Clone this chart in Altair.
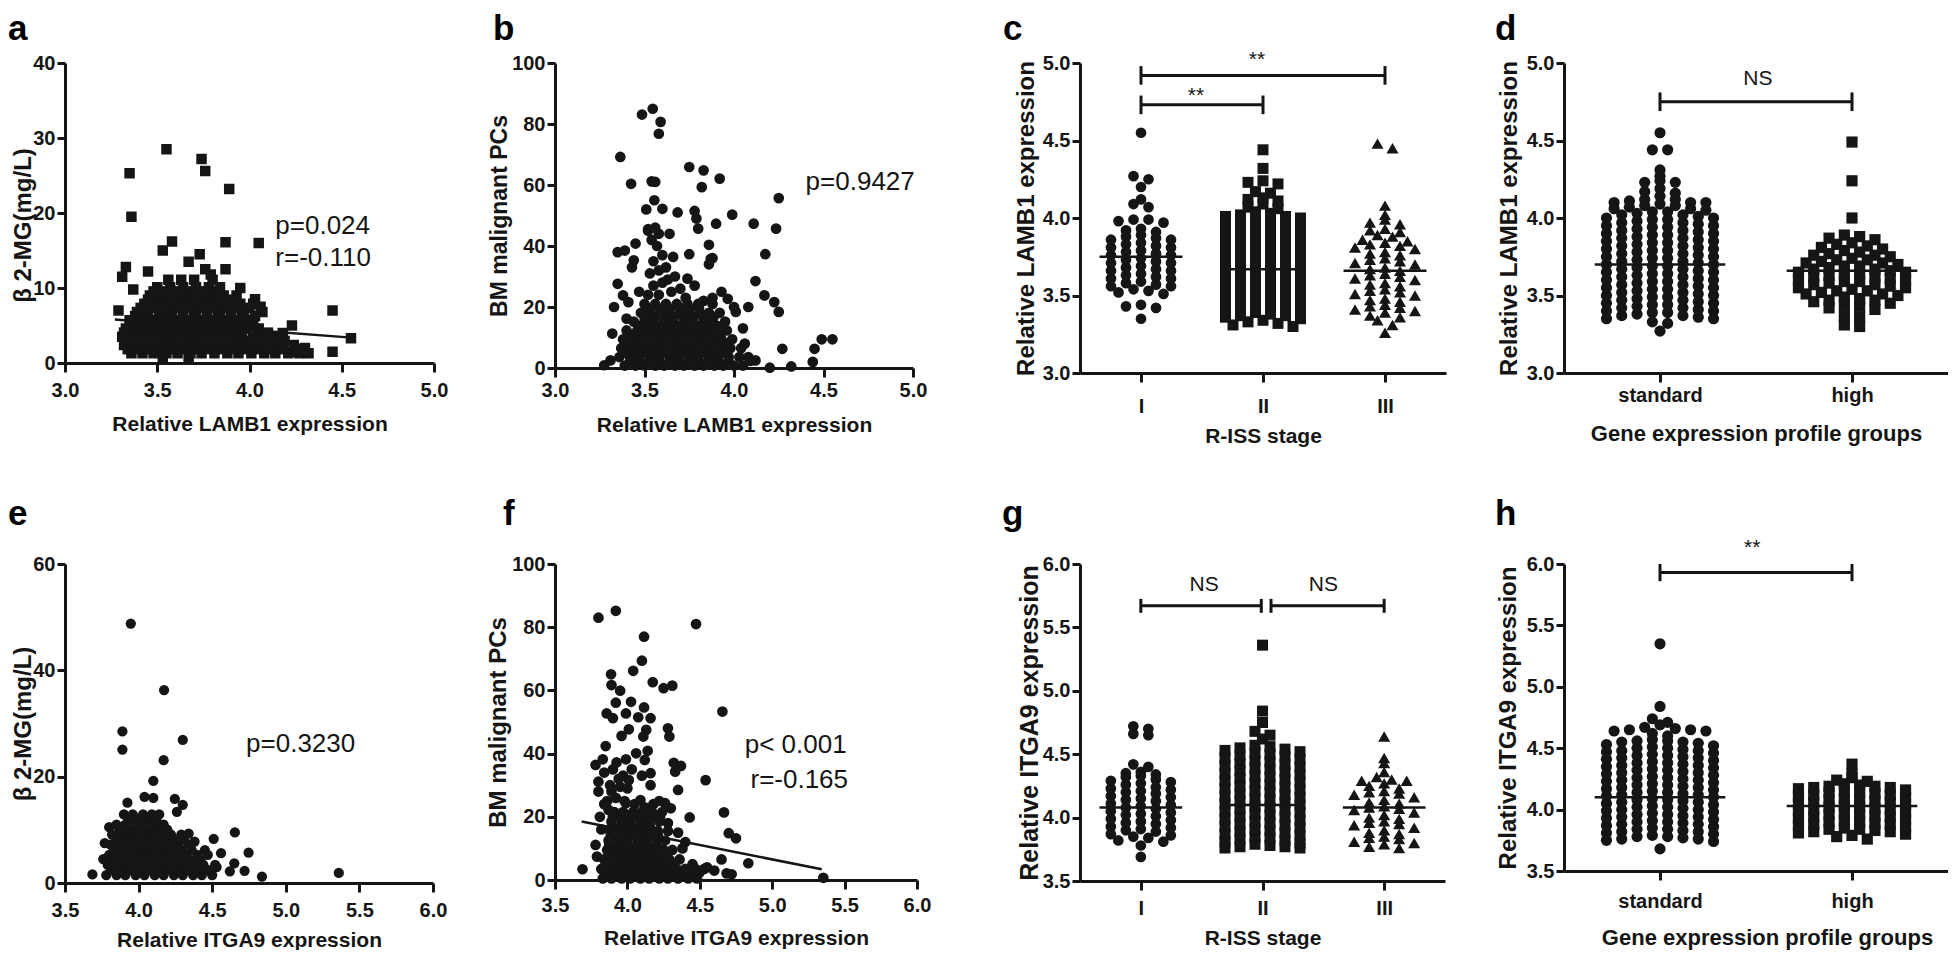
import math
import altair as alt
import pandas as pd

FONT = "Liberation Sans, Arial, sans-serif"
INK = "#151515"

# ---------------- data: scatter panels ----------------
# a: beta2-MG vs LAMB1 (squares)
a_pts = [(3.55, 28.5), (3.35, 25.3), (3.74, 27.2), (3.76, 25.6), (3.89, 23.2), (3.36, 19.5),
         (3.87, 16.1), (4.05, 16.0), (3.58, 16.2), (3.53, 15.0), (3.73, 14.5), (3.67, 13.5),
         (3.33, 12.8), (3.31, 11.5), (3.45, 12.2), (3.87, 12.5), (3.76, 12.5), (3.79, 11.8),
         (3.37, 9.8), (3.95, 10.0), (4.03, 8.5), (4.06, 7.5), (3.29, 7.0), (4.45, 7.0),
         (4.23, 5.0), (4.55, 3.3), (4.45, 1.5), (4.18, 4.0), (4.30, 2.0), (4.22, 1.5)]
a_rows = {
    0.5: [3.53, 3.67],
    1.3: [3.36, 3.42, 3.48, 3.55, 3.61, 3.68, 3.74, 3.81, 3.88, 3.94, 4.01, 4.08, 4.14, 4.21, 4.27, 4.32],
    1.85: [3.34, 3.40, 3.46, 3.52, 3.58, 3.65, 3.71, 3.78, 3.85, 3.91, 3.98, 4.05, 4.12, 4.18, 4.25, 4.30],
    2.4: [3.32, 3.38, 3.44, 3.50, 3.57, 3.63, 3.70, 3.76, 3.83, 3.89, 3.96, 4.03, 4.10, 4.16, 4.24],
    2.95: [3.34, 3.40, 3.47, 3.53, 3.60, 3.66, 3.73, 3.79, 3.86, 3.92, 3.99, 4.06, 4.12, 4.19],
    3.5: [3.31, 3.37, 3.43, 3.50, 3.56, 3.62, 3.69, 3.75, 3.82, 3.88, 3.95, 4.02, 4.09, 4.15],
    4.05: [3.32, 3.38, 3.45, 3.51, 3.57, 3.64, 3.70, 3.77, 3.83, 3.90, 3.96, 4.04, 4.10],
    4.6: [3.33, 3.40, 3.46, 3.52, 3.59, 3.65, 3.72, 3.78, 3.85, 3.91, 3.98, 4.05],
    5.15: [3.36, 3.43, 3.49, 3.56, 3.62, 3.69, 3.75, 3.82, 3.88, 3.95, 4.02],
    5.7: [3.35, 3.41, 3.48, 3.54, 3.61, 3.67, 3.74, 3.80, 3.87, 3.93, 4.00],
    6.25: [3.38, 3.44, 3.51, 3.57, 3.64, 3.70, 3.77, 3.83, 3.90, 3.96, 4.03],
    6.8: [3.39, 3.45, 3.52, 3.58, 3.64, 3.71, 3.77, 3.84, 3.90, 3.97, 4.07],
    7.35: [3.41, 3.47, 3.54, 3.60, 3.67, 3.73, 3.80, 3.86, 3.93, 4.00],
    7.9: [3.43, 3.49, 3.56, 3.62, 3.68, 3.75, 3.81, 3.88, 3.95, 4.02],
    8.45: [3.45, 3.51, 3.58, 3.64, 3.71, 3.77, 3.84, 3.90],
    9.0: [3.46, 3.53, 3.60, 3.66, 3.72, 3.79, 3.86, 3.93],
    9.55: [3.48, 3.55, 3.62, 3.68, 3.75, 3.81],
    10.1: [3.50, 3.57, 3.64, 3.71, 3.78, 3.84],
    11.1: [3.56, 3.63, 3.70, 3.80],
}
a_fit = [(3.27, 5.8), (4.57, 3.35)]
a_notes = [("p=0.024", 4.14, 17.2), ("r=-0.110", 4.14, 13.0)]

# b: BM malignant PCs vs LAMB1 (circles)
b_pts = [(3.546, 85.0), (3.486, 83.1), (3.59, 80.7), (3.58, 76.8), (3.365, 69.2), (3.75, 65.9),
         (3.83, 64.8), (3.92, 62.1), (3.425, 60.4), (3.54, 61.2), (3.56, 61.0), (3.82, 59.3),
         (4.25, 55.7), (3.555, 55.0), (3.60, 52.2), (3.685, 51.0), (3.78, 51.5), (3.51, 52.0),
         (3.99, 50.3), (3.90, 47.3), (3.79, 49.0), (4.11, 47.3), (4.235, 45.7), (3.52, 45.0),
         (3.64, 44.0), (3.80, 45.7), (3.45, 40.8), (3.86, 40.4), (3.35, 38.0), (3.39, 38.5),
         (3.66, 36.4), (3.75, 37.3), (3.87, 35.8), (4.175, 37.3), (3.44, 35.3), (3.43, 33.0),
         (4.12, 28.5), (3.74, 29.3), (4.17, 23.8), (4.225, 21.6), (4.25, 18.4), (4.27, 6.3),
         (4.45, 6.3), (4.49, 9.4), (4.55, 9.4), (4.44, 2.0), (4.32, 0.5), (4.20, 0.1),
         (4.08, 20.0), (4.05, 13.0), (4.06, 8.0), (4.12, 2.5), (4.09, 2.3), (3.275, 0.9),
         (3.31, 2.5), (3.32, 11.3), (3.33, 20.0), (3.35, 27.6), (3.38, 23.8), (3.41, 21.6),
         (3.47, 25.0), (3.40, 16.2), (3.93, 25.0), (3.965, 22.7), (4.01, 18.4), (4.00, 20.0),
         (3.86, 34.0), (3.88, 36.0), (3.52, 24.0), (3.58, 24.0), (3.55, 27.0), (3.60, 28.0),
         (3.53, 31.0), (3.58, 32.0), (3.62, 33.0), (3.55, 35.0), (3.60, 37.0), (3.57, 40.0),
         (3.54, 42.0), (3.58, 44.0), (3.52, 45.5), (3.56, 46.0), (3.65, 25.0), (3.70, 26.0),
         (3.63, 29.0), (3.67, 30.0), (3.78, 27.0), (3.83, 22.0), (3.88, 23.0), (3.73, 23.0)]
b_rows = {
    0.8: [3.39, 3.45, 3.50, 3.56, 3.61, 3.67, 3.72, 3.78, 3.83, 3.89, 3.94, 4.00, 4.05],
    2.2: [3.42, 3.475, 3.53, 3.585, 3.64, 3.695, 3.75, 3.805, 3.86, 3.915, 3.97],
    3.6: [3.36, 3.42, 3.47, 3.53, 3.58, 3.64, 3.69, 3.75, 3.80, 3.86, 3.91, 3.97, 4.03, 4.08],
    5.05: [3.40, 3.455, 3.51, 3.565, 3.62, 3.675, 3.73, 3.785, 3.84, 3.895, 3.95],
    6.5: [3.37, 3.43, 3.48, 3.54, 3.59, 3.65, 3.70, 3.76, 3.81, 3.87, 3.92, 3.98, 4.04],
    7.95: [3.41, 3.465, 3.52, 3.575, 3.63, 3.685, 3.74, 3.795, 3.85, 3.905, 3.96],
    9.4: [3.38, 3.44, 3.49, 3.55, 3.60, 3.66, 3.71, 3.77, 3.82, 3.88, 3.93, 3.99],
    10.85: [3.43, 3.485, 3.54, 3.595, 3.65, 3.705, 3.76, 3.815, 3.87, 3.925],
    12.3: [3.40, 3.46, 3.51, 3.57, 3.62, 3.68, 3.73, 3.79, 3.84, 3.90, 3.96],
    13.75: [3.47, 3.525, 3.58, 3.635, 3.69, 3.745, 3.80, 3.855, 3.91],
    15.2: [3.44, 3.50, 3.55, 3.61, 3.66, 3.72, 3.77, 3.83, 3.88, 3.95],
    16.65: [3.50, 3.555, 3.61, 3.665, 3.72, 3.775, 3.83, 3.885],
    18.1: [3.48, 3.53, 3.59, 3.64, 3.70, 3.75, 3.81, 3.86, 3.92],
    19.5: [3.53, 3.585, 3.64, 3.695, 3.75, 3.805],
    21.0: [3.50, 3.56, 3.62, 3.68, 3.74, 3.80, 3.88],
}
b_notes = [("p=0.9427", 4.40, 58.5)]

# e: beta2-MG vs ITGA9 (circles)
e_pts = [(3.947, 48.8), (4.173, 36.3), (3.89, 28.5), (3.89, 25.1), (4.30, 26.9), (4.17, 23.1),
         (4.10, 19.2), (3.924, 15.1), (4.246, 15.8), (4.30, 14.7), (4.26, 13.4), (4.04, 16.2),
         (4.10, 16.0), (4.654, 9.5), (4.747, 5.7), (5.36, 1.9), (4.838, 1.2), (3.686, 1.6),
         (4.51, 8.3), (4.65, 3.7), (4.72, 2.3), (4.56, 5.6), (4.45, 6.2), (4.34, 9.3),
         (4.62, 2.2), (4.53, 3.0), (3.76, 4.5), (3.77, 7.5), (3.80, 10.5), (4.38, 7.8)]
e_rows = {
    1.5: [3.78, 3.85, 3.91, 3.98, 4.04, 4.11, 4.17, 4.24, 4.30, 4.37, 4.43, 4.50],
    2.45: [3.815, 3.88, 3.945, 4.01, 4.075, 4.14, 4.205, 4.27, 4.335, 4.40, 4.47],
    3.4: [3.79, 3.86, 3.92, 3.99, 4.05, 4.12, 4.18, 4.25, 4.31, 4.38, 4.44, 4.52],
    4.35: [3.825, 3.89, 3.955, 4.02, 4.085, 4.15, 4.215, 4.28, 4.35, 4.42],
    5.3: [3.80, 3.87, 3.93, 4.00, 4.06, 4.13, 4.19, 4.26, 4.32, 4.40, 4.47],
    6.25: [3.835, 3.90, 3.965, 4.03, 4.095, 4.16, 4.225, 4.29, 4.36],
    7.2: [3.81, 3.88, 3.94, 4.01, 4.07, 4.14, 4.20, 4.27, 4.34],
    8.15: [3.85, 3.915, 3.98, 4.045, 4.11, 4.175, 4.24, 4.31],
    9.1: [3.82, 3.89, 3.95, 4.02, 4.08, 4.15, 4.22, 4.29],
    10.05: [3.87, 3.935, 4.00, 4.065, 4.13, 4.195],
    11.0: [3.85, 3.91, 3.98, 4.04, 4.11, 4.17],
    11.95: [3.93, 3.995, 4.06, 4.12],
    12.9: [3.90, 3.96, 4.03, 4.09, 4.14],
}
e_notes = [("p=0.3230", 4.73, 24.6)]

# f: BM malignant PCs vs ITGA9 (circles)
f_pts = [(3.80, 83.0), (3.92, 85.2), (4.474, 81.0), (4.115, 77.0), (4.10, 69.4), (4.04, 66.2),
         (3.887, 65.1), (3.89, 61.7), (3.95, 59.9), (4.175, 62.6), (4.25, 60.7), (4.31, 61.5),
         (4.656, 53.3), (3.92, 56.1), (4.025, 56.4), (4.115, 54.6), (3.857, 52.7), (3.90, 51.2),
         (3.99, 52.7), (4.075, 51.5), (4.16, 51.2), (4.28, 48.0), (4.29, 45.4), (3.96, 45.6),
         (4.01, 47.7), (4.13, 47.5), (4.11, 45.4), (3.85, 42.4), (3.78, 36.4), (3.83, 38.2),
         (3.925, 37.2), (3.99, 38.2), (4.06, 40.1), (4.14, 40.9), (4.12, 38.0), (4.16, 33.8),
         (4.32, 37.1), (4.37, 36.1), (4.33, 34.3), (4.54, 31.6), (4.35, 28.5), (3.80, 31.1),
         (4.01, 31.6), (4.43, 19.8), (4.667, 21.4), (4.70, 14.8), (4.75, 13.2), (4.38, 10.0),
         (4.835, 5.3), (4.65, 6.5), (4.685, 2.1), (4.72, 1.8), (5.353, 0.7), (3.69, 3.4),
         (3.78, 11.1), (3.79, 7.4), (4.30, 22.7), (4.26, 24.3), (3.87, 22.2), (3.99, 24.3),
         (4.09, 25.3), (3.89, 28.0), (3.95, 29.5), (4.55, 4.0), (4.50, 2.5), (4.45, 5.0),
         (4.60, 3.0), (4.42, 1.5), (3.86, 25.0), (3.92, 26.0), (3.98, 25.0), (4.05, 24.0),
         (4.12, 23.0), (4.18, 24.0), (3.88, 30.0), (3.94, 32.0), (4.00, 29.0), (3.84, 34.0),
         (3.90, 35.0), (3.97, 33.0), (4.03, 35.0), (4.10, 33.0), (4.16, 30.0), (3.80, 28.0),
         (4.22, 25.0), (4.28, 18.0), (4.35, 15.0), (4.40, 12.0), (3.82, 16.0), (3.81, 20.0),
         (3.84, 24.0)]
f_rows = {
    0.5: [3.83, 3.89, 3.96, 4.02, 4.09, 4.15, 4.22, 4.28, 4.35, 4.42, 4.48],
    2.0: [3.855, 3.92, 3.985, 4.05, 4.115, 4.18, 4.245, 4.31, 4.375, 4.44],
    3.5: [3.82, 3.88, 3.95, 4.01, 4.08, 4.14, 4.21, 4.27, 4.34, 4.40, 4.47, 4.53],
    5.0: [3.85, 3.915, 3.98, 4.045, 4.11, 4.175, 4.24, 4.305],
    6.5: [3.84, 3.90, 3.97, 4.03, 4.10, 4.16, 4.23, 4.29, 4.36],
    8.0: [3.87, 3.935, 4.00, 4.065, 4.13, 4.195, 4.26],
    9.5: [3.86, 3.92, 3.99, 4.05, 4.12, 4.18, 4.25, 4.31],
    11.0: [3.875, 3.94, 4.005, 4.07, 4.135, 4.20],
    12.5: [3.87, 3.94, 4.00, 4.07, 4.13, 4.20, 4.26],
    14.0: [3.885, 3.95, 4.015, 4.08, 4.145, 4.21],
    15.5: [3.88, 3.95, 4.01, 4.08, 4.14, 4.21, 4.28],
    17.0: [3.895, 3.96, 4.025, 4.09, 4.155],
    18.5: [3.89, 3.96, 4.02, 4.09, 4.15, 4.22],
    20.0: [3.90, 3.965, 4.03, 4.095, 4.16, 4.225],
    21.5: [3.91, 3.97, 4.04, 4.10, 4.17, 4.24],
}
f_fit = [(3.684, 18.5), (5.342, 3.4)]
f_notes = [("p< 0.001", 4.81, 40.2), ("r=-0.165", 4.85, 29.1)]

# ---------------- data: dot plots ----------------
stage_cats = ["I", "II", "III"]
gep_cats = ["standard", "high"]

c_I = [4.55, 4.27, 4.25, 4.20, 4.12, 4.09, 4.07, 3.99, 3.99, 3.98, 3.97, 3.93, 3.92, 3.91,
       3.89, 3.88, 3.87, 3.86, 3.86, 3.84, 3.83, 3.82, 3.81, 3.81, 3.79, 3.78, 3.77, 3.76, 3.76,
       3.74, 3.73, 3.72, 3.71, 3.71, 3.69, 3.68, 3.67, 3.66, 3.66, 3.64, 3.63, 3.62, 3.61, 3.61,
       3.59, 3.58, 3.57, 3.56, 3.56, 3.54, 3.53, 3.52, 3.51, 3.44, 3.43, 3.42, 3.35]
c_II = [4.44, 4.32, 4.24, 4.23, 4.22, 4.17, 4.16, 4.13, 4.12, 4.11, 4.09, 4.07, 4.06,
        4.04, 4.03, 4.02, 4.01, 4.01, 4.00, 3.99, 3.98, 3.97, 3.97, 3.96, 3.95,
        3.94, 3.93, 3.92, 3.92, 3.91, 3.90, 3.89, 3.88, 3.87, 3.87, 3.86, 3.85,
        3.84, 3.83, 3.82, 3.82, 3.81, 3.80, 3.79, 3.78, 3.77, 3.77, 3.76, 3.75,
        3.74, 3.73, 3.72, 3.72, 3.71, 3.70, 3.69, 3.68, 3.67, 3.67, 3.66, 3.65,
        3.64, 3.63, 3.62, 3.62, 3.61, 3.60, 3.59, 3.58, 3.57, 3.57, 3.56, 3.55,
        3.54, 3.53, 3.52, 3.52, 3.51, 3.50, 3.49, 3.48, 3.47, 3.47, 3.46, 3.45,
        3.44, 3.43, 3.42, 3.42, 3.41, 3.40, 3.39, 3.38, 3.37, 3.37, 3.36, 3.35,
        3.34, 3.33, 3.32, 3.31, 3.30]
c_III = [4.48, 4.45, 4.08, 4.02, 3.99, 3.97, 3.96, 3.93, 3.92, 3.91, 3.89, 3.88, 3.86, 3.85,
         3.84, 3.83, 3.82, 3.81, 3.80, 3.78, 3.77, 3.76, 3.74, 3.73, 3.72, 3.71, 3.70,
         3.68, 3.67, 3.66, 3.64, 3.63, 3.62, 3.61, 3.60, 3.58, 3.57, 3.56,
         3.54, 3.53, 3.52, 3.51, 3.50, 3.48, 3.47, 3.46, 3.44, 3.43, 3.42, 3.41, 3.40,
         3.39, 3.37, 3.36, 3.34, 3.31, 3.26]
c_means = [3.75, 3.67, 3.66]
c_bars = [(1, 3, 4.92), (1, 2, 4.73)]
c_sig = [("**", 1.95, 4.98), ("**", 1.45, 4.75)]

d_std = [4.55, 4.44, 4.44, 4.31, 4.27, 4.24, 4.23, 4.23, 4.19, 4.17, 4.16,
         4.14, 4.12, 4.12, 4.11, 4.10, 4.10, 4.10, 4.09, 4.08, 4.08, 4.07, 4.06, 4.06, 4.05,
         4.04, 4.04, 4.03, 4.02, 4.02, 4.01, 4.00, 4.00, 3.99, 3.99, 3.98, 3.97, 3.97, 3.96, 3.95, 3.95,
         3.94, 3.94, 3.93, 3.92, 3.92, 3.91, 3.90, 3.90, 3.89, 3.89, 3.88, 3.87, 3.87, 3.86, 3.85, 3.85,
         3.84, 3.84, 3.83, 3.82, 3.82, 3.81, 3.80, 3.80, 3.79, 3.79, 3.78, 3.77, 3.77, 3.76, 3.75, 3.75,
         3.74, 3.74, 3.73, 3.72, 3.72, 3.71, 3.70, 3.70, 3.69, 3.69, 3.68, 3.67, 3.67, 3.66, 3.65, 3.65,
         3.64, 3.64, 3.63, 3.62, 3.62, 3.61, 3.60, 3.60, 3.59, 3.59, 3.58, 3.57, 3.57, 3.56, 3.55, 3.55,
         3.54, 3.54, 3.53, 3.52, 3.52, 3.51, 3.50, 3.50, 3.49, 3.49, 3.48, 3.47, 3.47, 3.46, 3.45, 3.45,
         3.44, 3.44, 3.43, 3.42, 3.42, 3.41, 3.40, 3.40, 3.39, 3.39, 3.38, 3.37, 3.37, 3.36, 3.35, 3.35,
         3.33, 3.32, 3.27]
d_high = [4.49, 4.24, 4.00, 3.89, 3.88, 3.87, 3.86, 3.84, 3.83, 3.82, 3.81, 3.80,
          3.79, 3.78, 3.77, 3.76, 3.76, 3.75, 3.74, 3.73, 3.73, 3.72, 3.71, 3.71, 3.70,
          3.69, 3.69, 3.68, 3.67, 3.67, 3.66, 3.65, 3.65, 3.64, 3.64, 3.63, 3.62, 3.62, 3.61, 3.60, 3.60,
          3.59, 3.59, 3.58, 3.57, 3.57, 3.56, 3.55, 3.55, 3.54, 3.53, 3.53, 3.52, 3.51, 3.51, 3.50,
          3.49, 3.48, 3.47, 3.47, 3.46, 3.45, 3.44, 3.43, 3.42, 3.41, 3.37, 3.36, 3.31, 3.30]
d_means = [3.70, 3.66]
d_bars = [(1, 2, 4.75)]
d_sig = [("NS", 1.51, 4.86)]

g_I = [4.72, 4.70, 4.66, 4.65, 4.42, 4.40, 4.36, 4.35, 4.34,
       4.33, 4.32, 4.30, 4.29, 4.28, 4.27, 4.26, 4.24, 4.23, 4.22,
       4.21, 4.20, 4.19, 4.17, 4.16, 4.15, 4.14, 4.13, 4.11, 4.10,
       4.09, 4.08, 4.07, 4.05, 4.04, 4.03, 4.02, 4.01, 3.99, 3.98,
       3.97, 3.96, 3.95, 3.93, 3.92, 3.91, 3.90, 3.89, 3.87, 3.86,
       3.85, 3.84, 3.82, 3.81, 3.78, 3.69]
g_II = [5.36, 4.84, 4.75, 4.68, 4.65, 4.62,
        4.57, 4.56, 4.55, 4.54, 4.53, 4.52, 4.51, 4.50, 4.49, 4.48, 4.47, 4.46,
        4.45, 4.44, 4.43, 4.42, 4.41, 4.40, 4.39, 4.38, 4.37, 4.36, 4.35, 4.34,
        4.33, 4.32, 4.31, 4.30, 4.29, 4.28, 4.27, 4.26, 4.25, 4.24, 4.23, 4.22,
        4.21, 4.20, 4.19, 4.18, 4.17, 4.16, 4.15, 4.14, 4.13, 4.12, 4.11, 4.10,
        4.09, 4.08, 4.07, 4.06, 4.05, 4.04, 4.03, 4.02, 4.01, 4.00, 3.99, 3.98,
        3.97, 3.96, 3.95, 3.94, 3.93, 3.92, 3.91, 3.90, 3.89, 3.88, 3.87, 3.86,
        3.85, 3.84, 3.83, 3.82, 3.81, 3.80, 3.79, 3.78, 3.77, 3.77, 3.76, 3.76]
g_III = [4.64, 4.47, 4.43, 4.36, 4.32, 4.30, 4.29, 4.29, 4.27, 4.25, 4.23,
         4.21, 4.20, 4.19, 4.18, 4.16, 4.14, 4.12, 4.11, 4.09, 4.08, 4.07, 4.06, 4.04,
         4.02, 4.00, 3.99, 3.97, 3.96, 3.95, 3.94, 3.92, 3.90, 3.88, 3.87,
         3.85, 3.84, 3.83, 3.81, 3.80, 3.79, 3.77, 3.76]
g_means = [4.08, 4.10, 4.08]
g_bars = [(1, 1.99, 5.67), (2.07, 3, 5.67)]
g_sig = [("NS", 1.52, 5.79), ("NS", 2.50, 5.79)]

h_std = [5.35, 4.84, 4.74, 4.71, 4.69, 4.67, 4.66, 4.65, 4.65, 4.64, 4.64, 4.62, 4.60,
         4.57, 4.56, 4.56, 4.55, 4.55, 4.54, 4.53, 4.52,
         4.51, 4.50, 4.50, 4.49, 4.48, 4.48, 4.47, 4.46, 4.45, 4.44, 4.44, 4.43, 4.42, 4.42, 4.41, 4.40,
         4.39, 4.38, 4.38, 4.37, 4.36, 4.36, 4.35, 4.34, 4.33, 4.32, 4.32, 4.31, 4.30, 4.30, 4.29, 4.28,
         4.27, 4.26, 4.26, 4.25, 4.24, 4.24, 4.23, 4.22, 4.21, 4.20, 4.20, 4.19, 4.18, 4.18, 4.17, 4.16,
         4.15, 4.14, 4.14, 4.13, 4.12, 4.12, 4.11, 4.10, 4.09, 4.08, 4.08, 4.07, 4.06, 4.06, 4.05, 4.04,
         4.03, 4.02, 4.02, 4.01, 4.00, 4.00, 3.99, 3.98, 3.97, 3.96, 3.96, 3.95, 3.94, 3.94, 3.93, 3.92,
         3.91, 3.90, 3.90, 3.89, 3.88, 3.88, 3.87, 3.86, 3.85, 3.84, 3.84, 3.83, 3.82, 3.82, 3.81, 3.80,
         3.79, 3.78, 3.78, 3.77, 3.76, 3.76, 3.75, 3.74, 3.68]
h_high = [4.37, 4.29, 4.26, 4.24, 4.23,
          4.21, 4.20, 4.19, 4.19, 4.18, 4.18, 4.17, 4.16, 4.15, 4.14, 4.14, 4.13, 4.12, 4.12, 4.11, 4.10,
          4.09, 4.08, 4.08, 4.07, 4.06, 4.06, 4.05, 4.04, 4.03, 4.02, 4.02, 4.01, 4.00, 4.00, 3.99, 3.98,
          3.97, 3.96, 3.96, 3.95, 3.94, 3.94, 3.93, 3.92, 3.91, 3.90, 3.90, 3.89, 3.88, 3.88, 3.87, 3.86,
          3.85, 3.84, 3.84, 3.83, 3.82, 3.82, 3.81, 3.80, 3.79, 3.78, 3.76]
h_means = [4.10, 4.03]
h_bars = [(1, 2, 5.93)]
h_sig = [("**", 1.48, 6.08)]


# ---------------- helpers ----------------
def axis_x(title, ticks, fmt=None, expr=None, lpad=7, title_y=60, title_x=None, tsize=21,
           lsize=20):
    kw = dict(values=ticks, title=title, grid=False, domainColor=INK, domainWidth=3,
              tickColor=INK, tickWidth=3, tickSize=9, labelFont=FONT, labelFontSize=lsize,
              labelFontWeight="bold", labelColor=INK, labelPadding=lpad, labelFlush=False,
              labelOverlap=False, labelBound=False, titleFont=FONT, titleFontSize=tsize,
              titleFontWeight="bold", titleColor=INK, titleBaseline="middle", titleY=title_y)
    if title_x is not None:
        kw["titleX"] = title_x
    if fmt:
        kw["format"] = fmt
    if expr:
        kw["labelExpr"] = expr
    return alt.Axis(**kw)


def axis_y(title, ticks, fmt, tsize, title_x, title_y=None):
    kw = dict(values=ticks, title=title, grid=False, domainColor=INK, domainWidth=3,
              tickColor=INK, tickWidth=3, tickSize=8, labelFont=FONT, labelFontSize=20,
              labelFontWeight="bold", labelColor=INK, labelPadding=2, labelOverlap=False,
              labelBound=False, labelFlush=False, format=fmt, titleFont=FONT,
              titleFontSize=tsize, titleFontWeight="bold", titleColor=INK,
              titleAngle=270, titleAlign="center", titleBaseline="middle", titleX=title_x)
    if title_y is not None:
        kw["titleY"] = title_y
    return alt.Axis(**kw)


def letter_layer(letter, dx, dy):
    return alt.Chart(pd.DataFrame({"t": [letter]})).mark_text(
        align="left", baseline="alphabetic", font=FONT, fontSize=35, fontWeight="bold",
        color="#000").encode(x=alt.value(dx), y=alt.value(dy), text="t:N")


def anchor_layer(dx, dy):
    # invisible rule that fixes the top-left corner of the whole figure
    return alt.Chart(pd.DataFrame({"t": [0]})).mark_rule(opacity=0, strokeWidth=1).encode(
        x=alt.value(dx), y=alt.value(dy), y2=alt.value(dy + 4))


def scatter(pts, rows, shape, size, xdom, xticks, ydom, yticks, xtitle, ytitle, ytsize,
            ytx, w, h, notes, letter, ldx, ldy, xlpad, xty, fit=None, yty=None, extra=None):
    data = list(pts) + [(x, y) for y, xs in rows.items() for x in xs]
    X = alt.X("x:Q", scale=alt.Scale(domain=xdom, nice=False, zero=False),
              axis=axis_x(xtitle, xticks, fmt=".1f", lpad=xlpad, title_y=xty))
    Y = alt.Y("y:Q", scale=alt.Scale(domain=ydom, nice=False, zero=False),
              axis=axis_y(ytitle, yticks, "d", ytsize, ytx, yty))
    layers = [alt.Chart(pd.DataFrame(data, columns=["x", "y"])).mark_point(
        shape=shape, filled=True, opacity=1, size=size, color=INK).encode(x=X, y=Y)]
    if fit:
        layers.append(alt.Chart(pd.DataFrame(fit, columns=["x", "y"])).mark_line(
            color=INK, strokeWidth=2.5).encode(x=X, y=Y))
    layers.append(alt.Chart(pd.DataFrame(notes, columns=["t", "x", "y"])).mark_text(
        align="left", baseline="alphabetic", font=FONT, fontSize=26, color=INK
    ).encode(x=X, y=Y, text="t:N"))
    layers.append(letter_layer(letter, ldx, ldy))
    if extra is not None:
        layers.append(extra)
    return alt.layer(*layers).properties(width=w, height=h)


def swarm(vals, center, y0, binh, sp):
    bins = {}
    for v in vals:
        k = int(math.floor((v - y0) / binh + 1e-6))
        bins.setdefault(k, []).append(v)
    out = []
    for k in sorted(bins):
        vs = sorted(bins[k], reverse=True)
        n = len(vs)
        offs = sorted([i - (n - 1) / 2 for i in range(n)], key=lambda o: (abs(o), o))
        for v, o in zip(vs, offs):
            out.append((center + o * sp, v))
    return out


def dots(groups, cats, ydom, yticks, xtitle, ytitle, ytsize, ytx, w, h, means, bars,
         cap, sigs, letter, ldx, ldy, xlpad, xty, binh, xtx=None, xtsize=21, spx=15.0):
    n = len(cats)
    step = w / n
    sp = spx / step
    expr = "[" + ",".join("'%s'" % c for c in cats) + "][datum.value - 1]"
    X = alt.X("x:Q", scale=alt.Scale(domain=[0.5, n + 0.5], nice=False, zero=False),
              axis=axis_x(xtitle, list(range(1, n + 1)), expr=expr, lpad=xlpad,
                          title_y=xty, title_x=xtx, tsize=xtsize, lsize=20))
    Y = alt.Y("y:Q", scale=alt.Scale(domain=ydom, nice=False, zero=False),
              axis=axis_y(ytitle, yticks, ".1f", ytsize, ytx))
    layers = []
    for i, (vals, shape, size) in enumerate(groups):
        pts = swarm(vals, i + 1, ydom[0], binh, sp)
        layers.append(alt.Chart(pd.DataFrame(pts, columns=["x", "y"])).mark_point(
            shape=shape, filled=True, opacity=1, size=size, color=INK).encode(x=X, y=Y))
    mean_df = pd.DataFrame([(i + 1 - 0.34, i + 1 + 0.34, m) for i, m in enumerate(means)],
                           columns=["x", "x2", "y"])
    layers.append(alt.Chart(mean_df).mark_rule(color=INK, strokeWidth=2.5).encode(
        x=X, x2=alt.X2("x2:Q"), y=Y))
    layers.append(alt.Chart(pd.DataFrame(bars, columns=["x", "x2", "y"])).mark_rule(
        color=INK, strokeWidth=3).encode(x=X, x2=alt.X2("x2:Q"), y=Y))
    cap_df = pd.DataFrame([(x, y - cap, y + cap) for (x1, x2, y) in bars for x in (x1, x2)],
                          columns=["x", "y", "y2"])
    layers.append(alt.Chart(cap_df).mark_rule(color=INK, strokeWidth=3).encode(
        x=X, y=Y, y2=alt.Y2("y2:Q")))
    layers.append(alt.Chart(pd.DataFrame(sigs, columns=["t", "x", "y"])).mark_text(
        align="center", baseline="alphabetic", font=FONT, fontSize=21, color=INK
    ).encode(x=X, y=Y, text="t:N"))
    layers.append(letter_layer(letter, ldx, ldy))
    return alt.layer(*layers).properties(width=w, height=h)


def spacer(w):
    return alt.Chart(pd.DataFrame({"v": [0]})).mark_point(opacity=0).encode(
        x=alt.X("v:Q", axis=None), y=alt.Y("v:Q", axis=None)).properties(width=w, height=1)


# ---------------- panels ----------------
LAMB = "Relative LAMB1 expression"
ITGA = "Relative ITGA9 expression"
B2M = "\u03b2 2-MG(mg/L)"
BMPC = "BM malignant PCs"
GEP = "Gene expression profile groups"
RISS = "R-ISS stage"

A = scatter(a_pts, a_rows, "square", 110, [3.0, 5.0], [3.0, 3.5, 4.0, 4.5, 5.0], [0, 40],
            [0, 10, 20, 30, 40], LAMB, B2M, 24, -42, 369, 300, a_notes, "a", -57, -23,
            8, 61, fit=a_fit, yty=162, extra=anchor_layer(-56.5, -55))
B = scatter(b_pts, b_rows, "circle", 115, [3.0, 5.0], [3.0, 3.5, 4.0, 4.5, 5.0], [0, 100],
            [0, 20, 40, 60, 80, 100], LAMB, BMPC, 23, -56, 358, 305, b_notes, "b", -62, -23,
            3, 57)
C = dots([(c_I, "circle", 115), (c_II, "square", 121), (c_III, "triangle-up", 145)],
         stage_cats, [3.0, 5.0], [3.0, 3.5, 4.0, 4.5, 5.0], RISS, LAMB, 24, -54, 366, 310,
         c_means, c_bars, 0.06, c_sig, "c", -77, -23, 14, 63, 0.05)
D = dots([(d_std, "circle", 125), (d_high, "square", 125)], gep_cats, [3.0, 5.0],
         [3.0, 3.5, 4.0, 4.5, 5.0], GEP, LAMB, 24, -55, 384, 310, d_means, d_bars, 0.06,
         d_sig, "d", -69, -23, 3, 60, 0.05, xtsize=22, spx=15.3)
E = scatter(e_pts, e_rows, "circle", 105, [3.5, 6.0], [3.5, 4.0, 4.5, 5.0, 5.5, 6.0], [0, 60],
            [0, 20, 40, 60], ITGA, B2M, 24, -42, 368, 319, e_notes, "e", -57, -39, 8, 57)
F = scatter(f_pts, f_rows, "circle", 115, [3.5, 6.0], [3.5, 4.0, 4.5, 5.0, 5.5, 6.0], [0, 100],
            [0, 20, 40, 60, 80, 100], ITGA, BMPC, 24, -57, 362, 316, f_notes, "f", -52, -39,
            6, 58, fit=f_fit)
G = dots([(g_I, "circle", 115), (g_II, "square", 121), (g_III, "triangle-up", 145)],
         stage_cats, [3.5, 6.0], [3.5, 4.0, 4.5, 5.0, 5.5, 6.0], RISS, ITGA, 25, -51, 365, 317,
         g_means, g_bars, 0.055, g_sig, "g", -78, -39, 8, 57, 0.06)
H = dots([(h_std, "circle", 125), (h_high, "square", 125)], gep_cats, [3.5, 6.0],
         [3.5, 4.0, 4.5, 5.0, 5.5, 6.0], GEP, ITGA, 24, -56, 384, 307, h_means, h_bars, 0.07,
         h_sig, "h", -69, -39, 11, 66, 0.06, xtx=203, xtsize=22, spx=15.3)

S1, S2, S3 = spacer(121), spacer(163), spacer(118)

chart = alt.concat(A, S1, B, S2, C, S3, D, E, S1, F, S2, G, S3, H,
                   columns=7, spacing={"row": 191, "column": 0}, bounds="flush",
                   padding=0).configure_view(stroke=None)

chart.save("out.html", embed_options={"renderer": "svg", "actions": False})
